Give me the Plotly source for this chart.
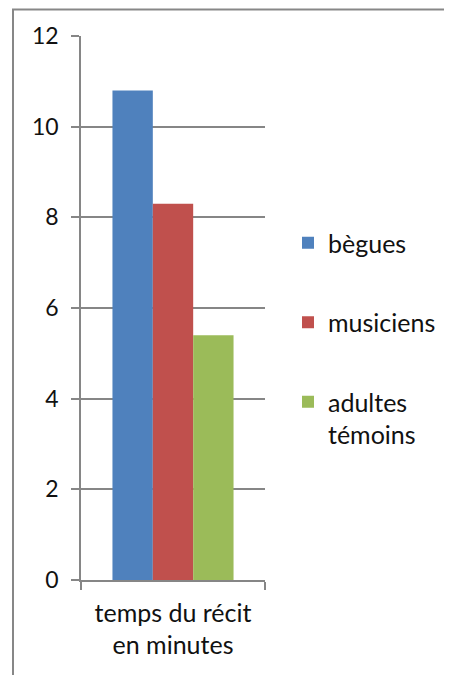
import plotly.graph_objects as go

categories = ["temps du récit<br>en minutes"]
series_names = ["bègues", "musiciens", "adultes<br>témoins"]
series_values = [[10.8], [8.3], [5.4]]
series_colors = ["#4F81BD", "#C0504D", "#9BBB59"]
y_ticks = [0, 2, 4, 6, 8, 10, 12]

# page has an 8px body margin; figure sized to fill the remaining viewport
OFF = 8
W, H = 452 - OFF, 675 - OFF
ml, mt = 81 - OFF, 36 - OFF
mr = W - (265 - OFF)
mb = H - (580 - OFF)
pw = W - ml - mr
ph = H - mt - mb

fig = go.Figure()
for name, vals, col in zip(series_names, series_values, series_colors):
    fig.add_trace(go.Bar(
        x=categories, y=vals, name=name, marker=dict(color=col, line=dict(width=0)),
        legendgroup=name,
    ))

grid = "#868686"
font = "Lato, Carlito, Calibri, sans-serif"
txt = "#111111"

def sx(px):  # screen px -> paper x
    return (px - OFF - ml) / pw

def sy(py):  # screen px -> paper y
    return (H - mb - (py - OFF)) / ph

border = dict(color="#878787", width=2)
fig.add_shape(type="line", xref="paper", yref="paper",
              x0=sx(12), x1=sx(452), y0=sy(9.5), y1=sy(9.5), line=border, layer="below")
fig.add_shape(type="line", xref="paper", yref="paper",
              x0=sx(13), x1=sx(13), y0=sy(9.5), y1=sy(675), line=border, layer="below")

fig.update_layout(
    width=W, height=H,
    margin=dict(l=ml, r=mr, t=mt, b=mb, autoexpand=False),
    paper_bgcolor="white", plot_bgcolor="white",
    barmode="group", bargap=0.342, bargroupgap=0,
    font=dict(family=font, size=25, color=txt),
    showlegend=True,
    legend=dict(
        x=sx(288), xanchor="left",
        y=sy(220), yanchor="top",
        font=dict(family=font, size=25, color=txt),
        traceorder="grouped", tracegroupgap=44, valign="top",
        itemwidth=30, bgcolor="rgba(0,0,0,0)",
    ),
    xaxis=dict(
        showline=True, linecolor=grid, linewidth=1.5,
        ticks="outside", tickson="boundaries", ticklen=8, tickcolor=grid, tickwidth=1.5,
        showgrid=False, tickfont=dict(family=font, size=25, color=txt),
        ticklabelstandoff=10, fixedrange=True,
    ),
    yaxis=dict(
        range=[0, 12], tickvals=y_ticks, showline=True, linecolor=grid, linewidth=1.5,
        ticks="outside", ticklen=8, tickcolor=grid, tickwidth=1.5,
        showgrid=True, gridcolor=grid, gridwidth=1.5, zeroline=False,
        tickfont=dict(family=font, size=23, color=txt), ticklabelstandoff=8,
        fixedrange=True,
    ),
)

fig.write_html("out.html")
